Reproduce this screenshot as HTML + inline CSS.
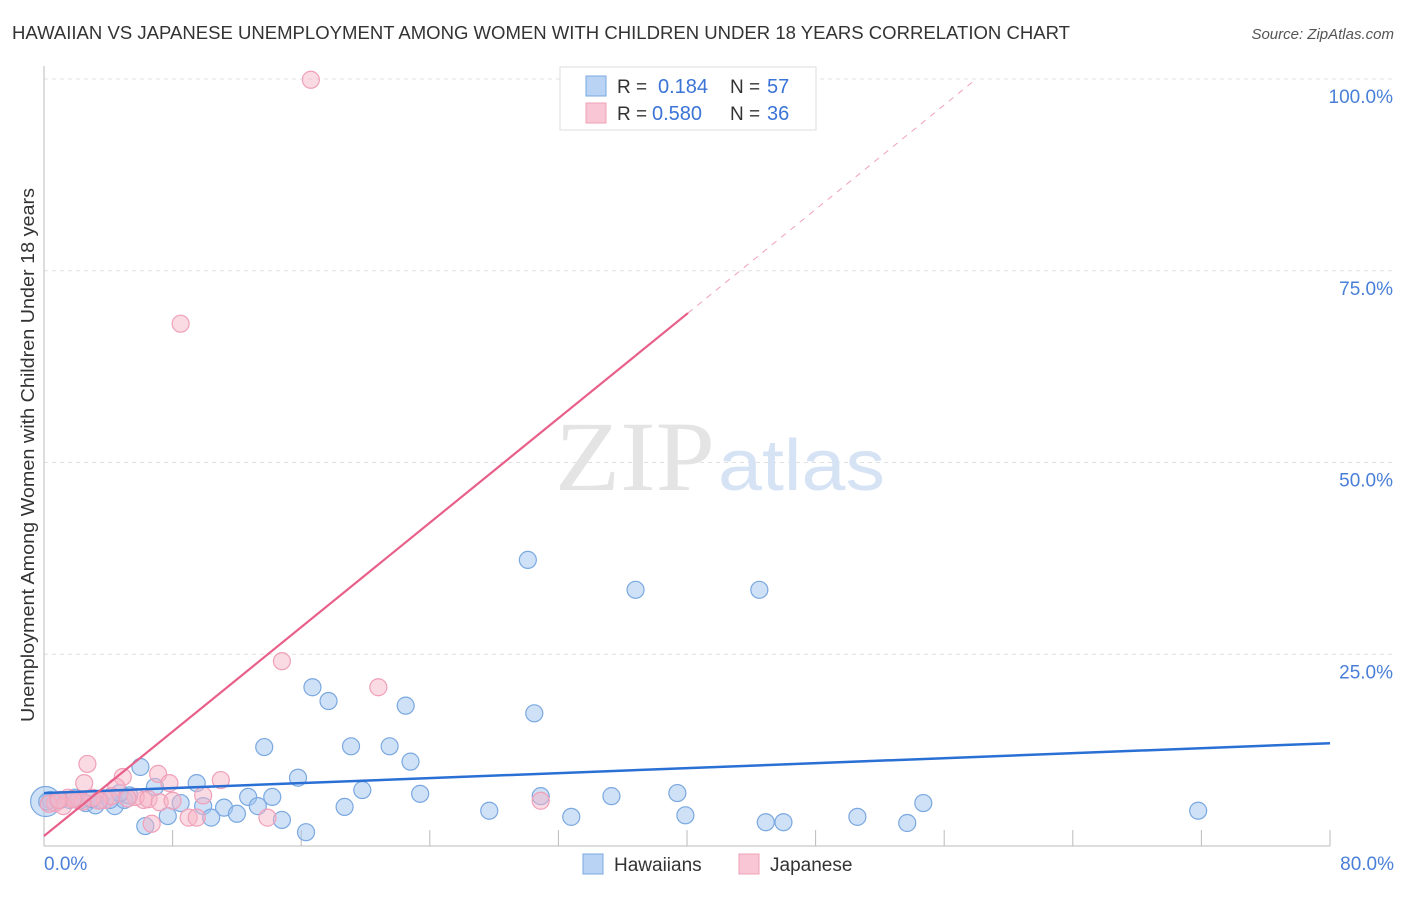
<!DOCTYPE html>
<html><head><meta charset="utf-8"><style>
body{margin:0;background:#fff;font-family:"Liberation Sans",sans-serif}
</style></head><body>
<svg id="chart" width="1406" height="892" viewBox="0 0 1406 892" xmlns="http://www.w3.org/2000/svg">
<text x="12" y="39" font-size="18" fill="#333" textLength="1058" lengthAdjust="spacingAndGlyphs">HAWAIIAN VS JAPANESE UNEMPLOYMENT AMONG WOMEN WITH CHILDREN UNDER 18 YEARS CORRELATION CHART</text>
<text x="1394" y="39" font-size="15" fill="#555" font-style="italic" text-anchor="end">Source: ZipAtlas.com</text>
<g id="grid"></g>
<text x="555" y="490" font-size="100" fill="#e4e4e4" textLength="160" lengthAdjust="spacingAndGlyphs" font-family="Liberation Serif,serif">ZIP</text>
<text x="718" y="490" font-size="72" fill="#d6e3f5" textLength="167" lengthAdjust="spacingAndGlyphs">atlas</text>
<g id="pts"></g>
<g id="lines"></g>
<text transform="translate(34,455) rotate(-90)" font-size="18" fill="#333" text-anchor="middle" textLength="534" lengthAdjust="spacingAndGlyphs">Unemployment Among Women with Children Under 18 years</text>
<text x="44" y="870" font-size="19" fill="#4a7fd8">0.0%</text>
<text x="1394" y="870" font-size="19" fill="#4a7fd8" text-anchor="end">80.0%</text>
<g>
<rect x="560" y="67" width="256" height="63" fill="#fff" stroke="#ddd"/>
<rect x="586" y="76" width="20" height="20" fill="#b9d3f5" stroke="#7aa8e0"/>
<rect x="586" y="103" width="20" height="20" fill="#f8c6d4" stroke="#f0a0b8"/>
<text x="617" y="93" font-size="19" fill="#333">R =</text>
<text x="658" y="93" font-size="20" fill="#3a74d6">0.184</text>
<text x="730" y="93" font-size="19" fill="#333">N =</text>
<text x="767" y="93" font-size="20" fill="#3a74d6">57</text>
<text x="617" y="120" font-size="19" fill="#333">R =</text>
<text x="652" y="120" font-size="20" fill="#3a74d6">0.580</text>
<text x="730" y="120" font-size="19" fill="#333">N =</text>
<text x="767" y="120" font-size="20" fill="#3a74d6">36</text>
</g>
<g>
<rect x="583" y="854" width="20" height="20" fill="#b9d3f5" stroke="#7aa8e0"/>
<text x="614" y="871" font-size="19" fill="#333">Hawaiians</text>
<rect x="739" y="854" width="20" height="20" fill="#f8c6d4" stroke="#f0a0b8"/>
<text x="770" y="871" font-size="19" fill="#333">Japanese</text>
</g>
</svg>
<script>
const yTicks=[25,50,75,100];
const yTickLabels=["25.0%","50.0%","75.0%","100.0%"];
const hawX=[30.1,36.8,44.5,16.7,17.7,22.5,30.5,13.7,19.1,21.5,22.8,6.0,15.8,9.5,6.9,19.8,23.4,30.9,35.3,39.4,12.7,14.2,8.5,9.9,11.2,13.3,18.7,27.7,54.7,71.8,7.7,10.4,12.0,14.8,32.8,39.9,44.9,46.0,50.6,53.7,6.3,16.3,0.4,1.0,1.6,2.6,3.5,4.4,5.0,5.3,3.2,1.9,4.1,4.7,0.2,2.2,3.0];
const hawY=[37.3,33.4,33.4,20.7,18.9,18.3,17.3,12.9,13.0,13.0,11.0,10.3,8.9,8.2,7.7,7.3,6.8,6.5,6.5,6.9,6.4,6.4,5.6,5.2,5.0,5.2,5.1,4.6,5.6,4.6,3.9,3.7,4.2,3.4,3.8,4.0,3.1,3.1,3.8,3.0,2.6,1.8,6.0,6.0,6.0,5.6,6.0,5.2,6.0,6.6,5.3,6.3,6.0,6.9,5.8,5.9,6.1];
const japX=[16.6,38.6,8.5,14.8,20.8,2.7,4.9,7.1,11.0,2.5,7.8,4.5,9.9,30.9,6.2,5.7,13.9,9.0,9.5,6.7,0.7,1.5,2.1,3.8,3.0,1.2,0.3,4.2,5.2,2.4,3.4,1.8,6.5,0.9,7.2,8.0];
const japY=[99.9,99.9,68.1,24.1,20.7,10.7,9.0,9.4,8.6,8.2,8.2,7.7,6.6,5.9,6.0,6.4,3.7,3.7,3.7,2.9,5.6,6.3,6.0,6.0,6.3,5.2,5.5,6.5,6.2,5.8,5.9,6.1,6.1,6.0,5.7,5.9];
const hawLine=[6.9,13.4];
const japLine=[1.3,1.702];
const X0=44,X1=1330,Y0=846,Y1=79;
const sx=v=>X0+(X1-X0)*v/80, sy=v=>Y0-(Y0-Y1)*v/100;
const NS="http://www.w3.org/2000/svg";
function mk(tag,attrs,parent){const e=document.createElementNS(NS,tag);for(const k in attrs)e.setAttribute(k,attrs[k]);parent.appendChild(e);return e;}
const grid=document.getElementById('grid');
yTicks.forEach((t,i)=>{
 const l=mk('line',{x1:X0,x2:1394,y1:sy(t),y2:sy(t),stroke:'#e0e0e0','stroke-dasharray':'4,4'},grid);
 
 
 const tx=mk('text',{x:1393,y:sy(t)+24,'font-size':19,fill:'#4a7fd8','text-anchor':'end'},grid);
 tx.textContent=yTickLabels[i];
 
 
});
const ax=mk('line',{x1:X0,x2:X0,y1:66,y2:Y0,stroke:'#bbb'},grid);


const bx=mk('line',{x1:X0,x2:X1,y1:Y0,y2:Y0,stroke:'#bbb'},grid);


for(let v=8;v<=80;v+=8){const t=mk('line',{x1:sx(v),x2:sx(v),y1:Y0,y2:Y0-16,stroke:'#bbb'},grid);
 
 }
const pts=document.getElementById('pts');
const big=mk('circle',{cx:sx(0.1),cy:sy(5.8),r:15,fill:'rgba(160,196,240,0.5)',stroke:'#7aa8e0','stroke-width':1.2},pts);


hawX.forEach((x,i)=>{const c=mk('circle',{cx:sx(x),cy:sy(hawY[i]),r:8.5,fill:'rgba(160,196,240,0.5)',stroke:'#7aa8e0','stroke-width':1.2},pts);
 
 });
japX.forEach((x,i)=>{const c=mk('circle',{cx:sx(x),cy:sy(japY[i]),r:8.5,fill:'rgba(246,182,200,0.5)',stroke:'#f0a0b8','stroke-width':1.2},pts);
 
 });
const lines=document.getElementById('lines');
const hl=mk('line',{x1:sx(0),y1:sy(hawLine[0]),x2:sx(80),y2:sy(hawLine[1]),stroke:'#2a6fd4','stroke-width':2.5},lines);


const jEnd=40.06, jMax=(100-japLine[0])/japLine[1];
const jl=mk('line',{x1:sx(0),y1:sy(japLine[0]),x2:sx(jEnd),y2:sy(japLine[0]+japLine[1]*jEnd),stroke:'#e8608a','stroke-width':2.2},lines);


const jd=mk('line',{x1:sx(jEnd),y1:sy(japLine[0]+japLine[1]*jEnd),x2:sx(jMax),y2:sy(100),stroke:'#f0a0b8','stroke-width':1,'stroke-dasharray':'6,6'},lines);


</script>
</body></html>
